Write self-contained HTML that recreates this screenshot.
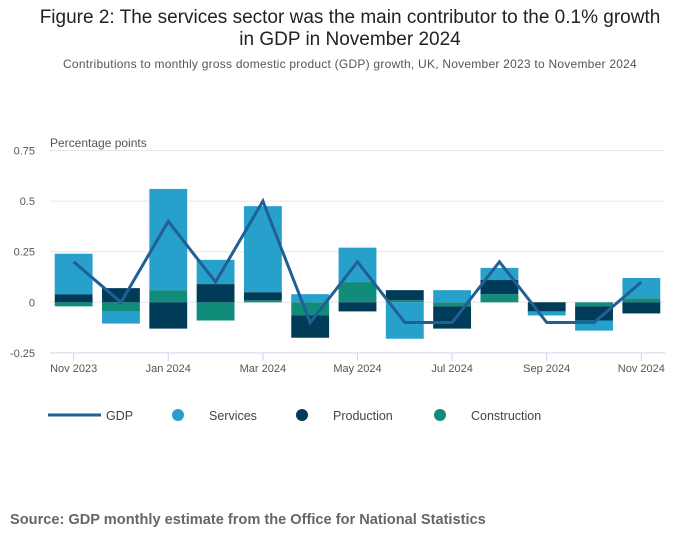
<!DOCTYPE html>
<html><head><meta charset="utf-8"><style>
body{margin:0;background:#fff;font-family:"Liberation Sans",sans-serif;}
#wrap{position:relative;width:700px;height:549px;overflow:hidden;}
.t{position:absolute;left:0;width:700px;text-align:center;color:#222;}
</style></head><body>
<div id="wrap">
<div class="t" style="top:7px;font-size:19px;line-height:22px;">Figure 2: The services sector was the main contributor to the 0.1% growth<br>in GDP in November 2024</div>
<div class="t" style="top:57px;font-size:12px;letter-spacing:0.24px;color:#555;">Contributions to monthly gross domestic product (GDP) growth, UK, November 2023 to November 2024</div>
<svg id="c" width="700" height="549" style="position:absolute;left:0;top:0"></svg>
<div style="position:absolute;left:10px;top:512px;font-size:14.6px;font-weight:bold;color:#666;">Source: GDP monthly estimate from the Office for National Statistics</div>
</div>
<script>
const categories=["Nov 2023","Dec 2023","Jan 2024","Feb 2024","Mar 2024","Apr 2024","May 2024","Jun 2024","Jul 2024","Aug 2024","Sep 2024","Oct 2024","Nov 2024"];
const services=[0.20,-0.06,0.50,0.12,0.425,0.04,0.17,-0.18,0.06,0.06,-0.02,-0.05,0.10];
const production=[0.04,0.07,-0.13,0.09,0.04,-0.11,-0.045,0.05,-0.11,0.07,-0.045,-0.07,-0.055];
const construction=[-0.02,-0.045,0.06,-0.09,0.01,-0.065,0.10,0.01,-0.02,0.04,0,-0.02,0.02];
const gdp=[0.2,0.0,0.4,0.1,0.5,-0.1,0.2,-0.1,-0.1,0.2,-0.1,-0.1,0.1];
const yTicks=[-0.25,0,0.25,0.5,0.75];
const yTickLabels=["-0.25","0","0.25","0.5","0.75"];
const xTickIdx=[0,2,4,6,8,10,12];

const NS="http://www.w3.org/2000/svg";
const svg=document.getElementById('c');
const L=50,R=665,Y0=302.3,PX=202.4;
const band=(R-L)/categories.length;
const y=v=>Y0-v*PX;
const xc=i=>L+band*(i+0.5);
function mk(t,a){const e=document.createElementNS(NS,t);for(const k in a)e.setAttribute(k,a[k]);svg.appendChild(e);return e;}
yTicks.forEach((v,i)=>{
  const g=mk('line',{x1:L,x2:R,y1:y(v),y2:y(v),stroke:v===-0.25?'#ccd6eb':'#e6e6e6','stroke-width':1});
  
  
  const t=mk('text',{x:35,y:y(v)+4,'text-anchor':'end','font-size':11,fill:'#555'});
  t.textContent=yTickLabels[i];
  
  
});
const yt=mk('text',{x:50,y:147,'font-size':12,fill:'#555'});yt.textContent='Percentage points';


xTickIdx.forEach(i=>{
  const l=mk('line',{x1:xc(i),x2:xc(i),y1:y(-0.25),y2:y(-0.25)+8,stroke:'#ccd6eb'});
  
  
  const t=mk('text',{x:xc(i),y:372,'text-anchor':'middle','font-size':11,fill:'#555'});
  t.textContent=categories[i];
  
  
});
const series=[[construction,'#118c7b','construction'],[production,'#003c57','production'],[services,'#27a0cc','services']];
const bw=band*0.8;
categories.forEach((c,i)=>{
  let pos=0,neg=0;
  series.forEach(([arr,col,nm])=>{
    const v=arr[i];let a,b;
    if(v>=0){a=pos;b=pos+v;pos=b;}else{a=neg;b=neg+v;neg=b;}
    const r=mk('rect',{x:xc(i)-bw/2,width:bw,y:Math.min(y(a),y(b)),height:Math.abs(y(a)-y(b)),fill:col});
    
    
  });
});
const p=mk('polyline',{points:gdp.map((v,i)=>xc(i)+','+y(v)).join(' '),fill:'none',stroke:'#206095','stroke-width':3,'stroke-linejoin':'miter'});


const lg=[['GDP',48,'line'],['Services',172,'#27a0cc'],['Production',296,'#003c57'],['Construction',434,'#118c7b']];
lg.forEach(([n,x0,c])=>{
  if(c==='line'){const l=mk('line',{x1:x0,x2:x0+53,y1:415,y2:415,stroke:'#206095','stroke-width':3});}
  else{const s=mk('circle',{cx:x0+6,cy:415,r:6,fill:c});}
  const t=mk('text',{x:c==='line'?x0+58:x0+37,y:420,'font-size':12.5,fill:'#444'});
  t.textContent=n;
  
  
});
</script>
</body></html>
